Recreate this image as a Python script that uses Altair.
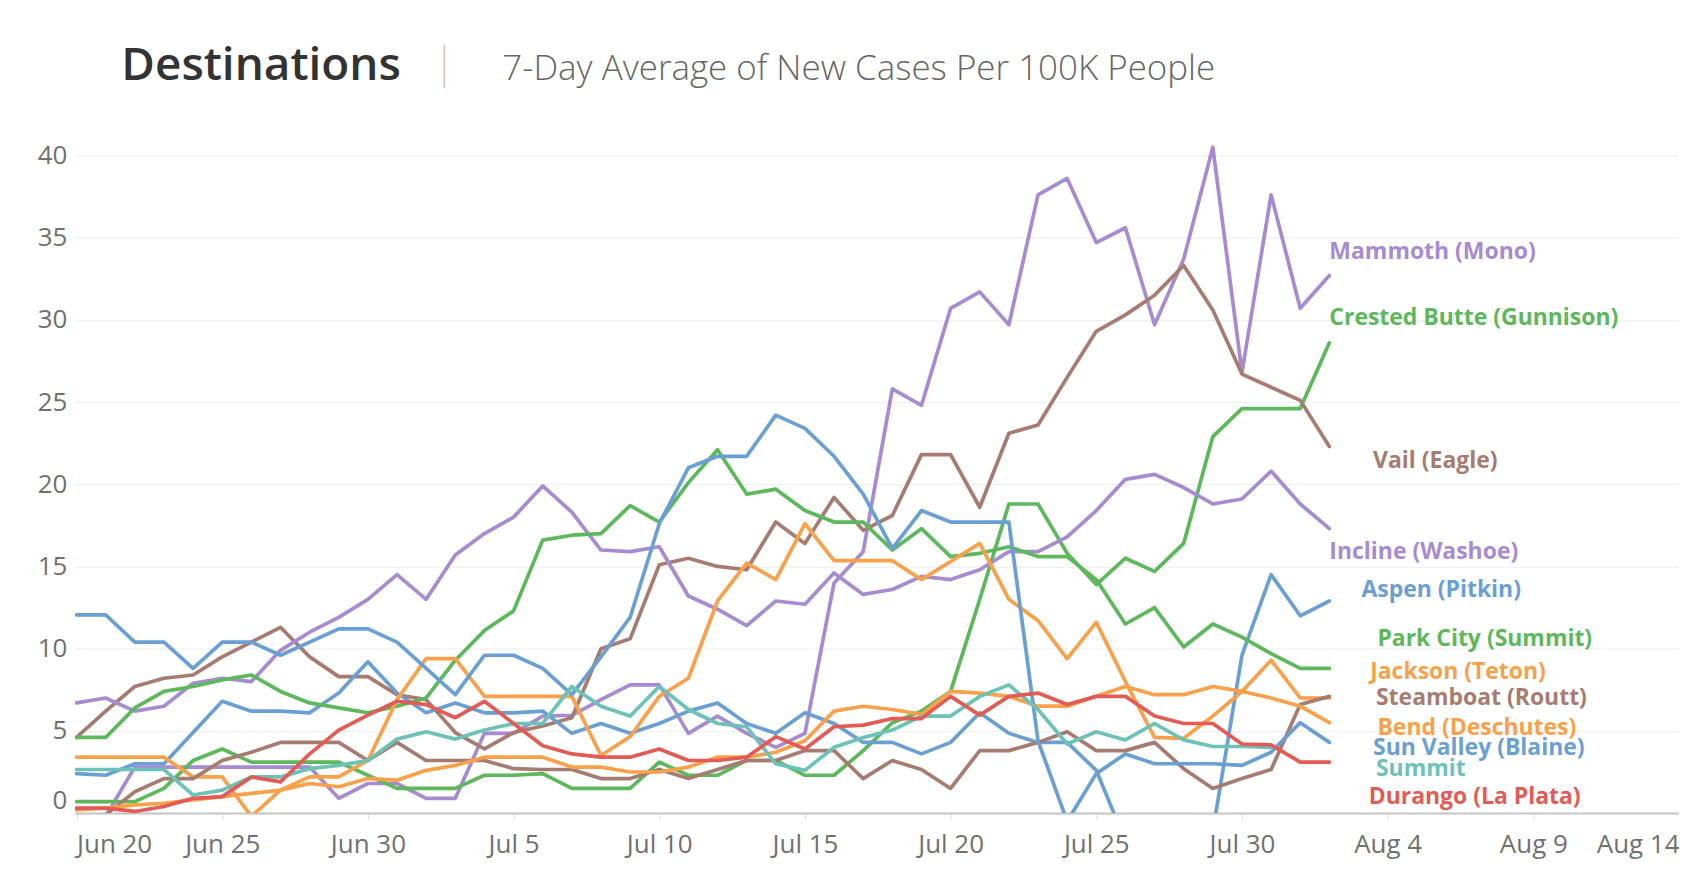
import altair as alt
import pandas as pd

# ---------------- data ----------------
start_date = "2020-06-20"
end_date = "2020-08-02"
dates = pd.date_range(start_date, end_date, freq="D")  # 44 daily points

names = [
    "Mammoth (Mono)", "Crested Butte (Gunnison)", "Vail (Eagle)", "Incline (Washoe)",
    "Aspen (Pitkin)", "Park City (Summit)", "Jackson (Teton)", "Steamboat (Routt)",
    "Bend (Deschutes)", "Sun Valley (Blaine)", "Summit", "Durango (La Plata)",
]
colors = [
    "#a78bd0", "#5cb85b", "#a67c70", "#a78bd0",
    "#6a9fd4", "#5cb85b", "#f9a04a", "#a67c70",
    "#f9a04a", "#6a9fd4", "#6cc2b6", "#e25b55",
]

mammoth = [-0.2, -0.2, 2.8, 2.8, 2.8, 2.8, 2.8, 2.8, 2.8, 0.9,
           1.8, 1.8, 0.9, 0.9, 4.85, 4.85, 5.9, 5.95, 6.9, 7.8,
           7.8, 4.85, 5.9, 4.85, 4.0, 4.85, 14.0, 15.9, 25.8, 24.8,
           30.7, 31.7, 29.7, 37.6, 38.6, 34.7, 35.6, 29.7, 33.7, 40.5,
           26.8, 37.6, 30.7, 32.7]
crested_butte = [0.7, 0.7, 0.7, 1.5, 3.2, 3.9, 3.1, 3.1, 3.1, 3.1,
                 2.3, 1.5, 1.5, 1.5, 2.3, 2.3, 2.4, 1.5, 1.5, 1.5,
                 3.1, 2.3, 2.3, 3.2, 3.2, 2.3, 2.3, 3.8, 5.5, 6.2,
                 7.4, 13.0, 18.8, 18.8, 15.8, 13.9, 15.5, 14.7, 16.4, 22.9,
                 24.6, 24.6, 24.6, 28.6]
vail = [4.6, 6.2, 7.7, 8.2, 8.4, 9.5, 10.4, 11.3, 9.5, 8.3,
        8.3, 7.2, 6.9, 4.9, 3.9, 4.9, 5.3, 5.8, 10.0, 10.6,
        15.1, 15.5, 15.0, 14.8, 17.7, 16.4, 19.2, 17.2, 18.1, 21.8,
        21.8, 18.6, 23.1, 23.6, 26.5, 29.3, 30.3, 31.5, 33.3, 30.6,
        26.7, 25.9, 25.1, 22.3]
incline = [6.7, 7.0, 6.2, 6.5, 7.9, 8.2, 8.0, 9.9, 11.0, 11.9,
           13.0, 14.5, 13.0, 15.7, 17.0, 18.0, 19.9, 18.3, 16.0, 15.9,
           16.2, 13.2, 12.4, 11.4, 12.9, 12.7, 14.6, 13.3, 13.6, 14.4,
           14.2, 14.8, 15.9, 15.9, 16.8, 18.4, 20.3, 20.6, 19.8, 18.8,
           19.1, 20.8, 18.8, 17.3]
aspen = [2.4, 2.3, 3.0, 3.0, 4.9, 6.8, 6.2, 6.2, 6.1, 7.3,
         9.2, 7.3, 6.1, 6.7, 6.1, 6.1, 6.2, 4.85, 5.45, 4.85,
         5.45, 6.2, 6.7, 5.45, 4.85, 6.1, 5.45, 4.3, 4.3, 3.6,
         4.3, 6.1, 4.85, 4.3, 4.3, 2.6, -1.7, -2.5, -2.5, -1.1,
         9.6, 14.5, 12.0, 12.9]
park_city = [4.6, 4.6, 6.4, 7.4, 7.7, 8.1, 8.4, 7.4, 6.7, 6.4,
             6.1, 6.5, 7.0, 9.3, 11.1, 12.3, 16.6, 16.9, 17.0, 18.7,
             17.7, 20.1, 22.1, 19.4, 19.7, 18.4, 17.7, 17.7, 16.0, 17.3,
             15.6, 15.8, 16.2, 15.6, 15.6, 14.2, 11.5, 12.5, 10.1, 11.5,
             10.7, 9.7, 8.8, 8.8]
jackson = [3.4, 3.4, 3.4, 3.4, 2.2, 2.2, -0.2, 1.4, 2.2, 2.2,
           3.2, 6.9, 9.4, 9.4, 7.1, 7.1, 7.1, 7.1, 3.5, 4.65,
           7.1, 8.2, 12.9, 15.2, 14.2, 17.6, 15.35, 15.35, 15.35, 14.2,
           15.3, 16.4, 13.0, 11.7, 9.4, 11.6, 8.0, 4.6, 4.55, 5.9,
           7.4, 9.3, 7.0, 7.0]
steamboat = [-0.1, -0.1, 1.3, 2.1, 2.1, 3.2, 3.7, 4.3, 4.3, 4.3,
             3.2, 4.3, 3.2, 3.2, 3.2, 2.7, 2.65, 2.65, 2.1, 2.1,
             2.65, 2.1, 2.65, 3.2, 3.2, 3.8, 3.8, 2.1, 3.2, 2.65,
             1.5, 3.8, 3.8, 4.3, 4.95, 3.8, 3.8, 4.3, 2.7, 1.5,
             2.1, 2.65, 6.6, 7.1]
bend = [0.2, 0.3, 0.5, 0.6, 0.8, 1.0, 1.2, 1.4, 1.8, 1.6,
        2.1, 2.0, 2.6, 2.9, 3.4, 3.4, 3.4, 2.8, 2.8, 2.5,
        2.5, 2.8, 3.4, 3.4, 3.7, 4.4, 6.2, 6.5, 6.3, 6.0,
        7.4, 7.3, 7.1, 6.5, 6.5, 7.1, 7.7, 7.2, 7.2, 7.7,
        7.4, 7.0, 6.5, 5.5]
sun_valley = [12.05, 12.05, 10.4, 10.4, 8.8, 10.4, 10.4, 9.6, 10.4, 11.2,
              11.2, 10.4, 8.8, 7.2, 9.6, 9.6, 8.8, 7.2, 9.5, 11.9,
              17.6, 21.0, 21.7, 21.7, 24.2, 23.4, 21.7, 19.4, 16.1, 18.4,
              17.7, 17.7, 17.7, 4.4, -0.5, 2.4, 3.6, 3.0, 3.0, 3.0,
              2.9, 3.7, 5.5, 4.3]
summit = [2.65, 2.65, 2.65, 2.65, 1.1, 1.4, 2.2, 2.2, 2.7, 2.9,
          3.2, 4.5, 4.95, 4.5, 5.05, 5.45, 5.45, 7.7, 6.5, 5.9,
          7.7, 6.3, 5.45, 5.25, 3.0, 2.6, 4.0, 4.6, 5.05, 5.9,
          5.9, 7.1, 7.8, 6.3, 4.2, 4.95, 4.45, 5.45, 4.45, 4.05,
          4.05, 4.0]
durango = [0.3, 0.3, 0.1, 0.4, 0.9, 1.0, 2.2, 1.9, 3.6, 5.05,
           5.96, 6.8, 6.6, 5.8, 6.8, 5.45, 4.1, 3.6, 3.4, 3.4,
           3.9, 3.2, 3.2, 3.4, 4.65, 3.9, 5.25, 5.35, 5.75, 5.75,
           7.1, 5.96, 7.1, 7.3, 6.6, 7.1, 7.1, 5.9, 5.45, 5.45,
           4.2, 4.15, 3.1, 3.1]

series = [mammoth, crested_butte, vail, incline, aspen, park_city,
          jackson, steamboat, bend, sun_valley, summit, durango]

# end-of-line label placement (value axis units, days after the last point)
label_y = [34.1, 30.1, 21.4, 15.9, 13.55, 10.6, 8.55, 6.98, 5.15, 3.97, 2.66, 0.96]
label_day_offset = [0.0, 0.0, 1.5, 0.0, 1.1, 1.65, 1.4, 1.6, 1.65, 1.5, 1.6, 1.35]

tick_dates = ["2020-06-20", "2020-06-25", "2020-06-30", "2020-07-05", "2020-07-10",
              "2020-07-15", "2020-07-20", "2020-07-25", "2020-07-30", "2020-08-04",
              "2020-08-09", "2020-08-14"]
y_ticks = [0, 5, 10, 15, 20, 25, 30, 35, 40]

title_text = "Destinations"
subtitle_text = "7-Day Average of New Cases Per 100K People"

# ---------------- tables ----------------
rows = []
for name, vals in zip(names, series):
    for d, v in zip(dates, vals):
        rows.append({"county": name, "date": d, "cases": v})
df = pd.DataFrame(rows)

last_date = dates[-1]
lab = pd.DataFrame({
    "county": names,
    "date": [last_date + pd.Timedelta(days=o) for o in label_day_offset],
    "cases": label_y,
})


def dt(s, hours=0, minutes=0):
    t = pd.Timestamp(s)
    return alt.DateTime(year=t.year, month=t.month, date=t.day, hours=hours, minutes=minutes)


x_domain = [dt("2020-06-19", 22, 36), dt("2020-08-14")]
color_scale = alt.Scale(domain=names, range=colors)

FONT = "Open Sans"
LABEL_GRAY = "#707070"

lines = alt.Chart(df).mark_line(strokeWidth=3.7, clip=True, strokeJoin="round", strokeCap="round").encode(
    x=alt.X("date:T", scale=alt.Scale(domain=x_domain),
            axis=alt.Axis(title=None, values=[dt(s) for s in tick_dates], format="%b %-d",
                          labelFont=FONT, labelFontSize=26, labelColor=LABEL_GRAY,
                          labelFlush=6, grid=False, domainColor="#c4c4c4", domainWidth=2,
                          tickColor="#dcdcdc", tickSize=6, labelPadding=12, labelOverlap=False)),
    y=alt.Y("cases:Q", scale=alt.Scale(domain=[0, 41.5], nice=False, zero=False),
            axis=alt.Axis(title=None, values=y_ticks, labelFont=FONT, labelFontSize=26,
                          labelColor=LABEL_GRAY, grid=True, gridColor="#ececec", gridWidth=1,
                          domain=False, ticks=False, labelPadding=8, labelFlush=True)),
    color=alt.Color("county:N", scale=color_scale, legend=None),
)

labels = alt.Chart(lab).mark_text(align="left", baseline="middle", font=FONT,
                                  fontSize=23, fontWeight=700).encode(
    x="date:T",
    y="cases:Q",
    text="county:N",
    color=alt.Color("county:N", scale=color_scale, legend=None),
)

title_mark = alt.Chart(pd.DataFrame({"t": [title_text]})).mark_text(
    align="left", baseline="alphabetic", font=FONT, fontSize=46, fontWeight=600, color="#333333"
).encode(x=alt.value(46.6), y=alt.value(-51), text="t:N")

subtitle_mark = alt.Chart(pd.DataFrame({"t": [subtitle_text]})).mark_text(
    align="left", baseline="alphabetic", font=FONT, fontSize=35, fontWeight=300, color="#666666"
).encode(x=alt.value(428.5), y=alt.value(-51), text="t:N")

separator = alt.Chart(pd.DataFrame({"a": [0]})).mark_rule(color="#c9bfb5", strokeWidth=1.5).encode(
    x=alt.value(370.4), y=alt.value(-86), y2=alt.value(-43)
)

chart = alt.layer(lines, labels, title_mark, separator, subtitle_mark).properties(
    width=1608, height=684,
    autosize=alt.AutoSizeParams(type="none"),
    padding={"left": 67, "top": 122, "right": 0, "bottom": 48},
    background="#ffffff",
).configure_view(stroke=None)

chart.save("out.html", embed_options={"renderer": "svg", "actions": False})
